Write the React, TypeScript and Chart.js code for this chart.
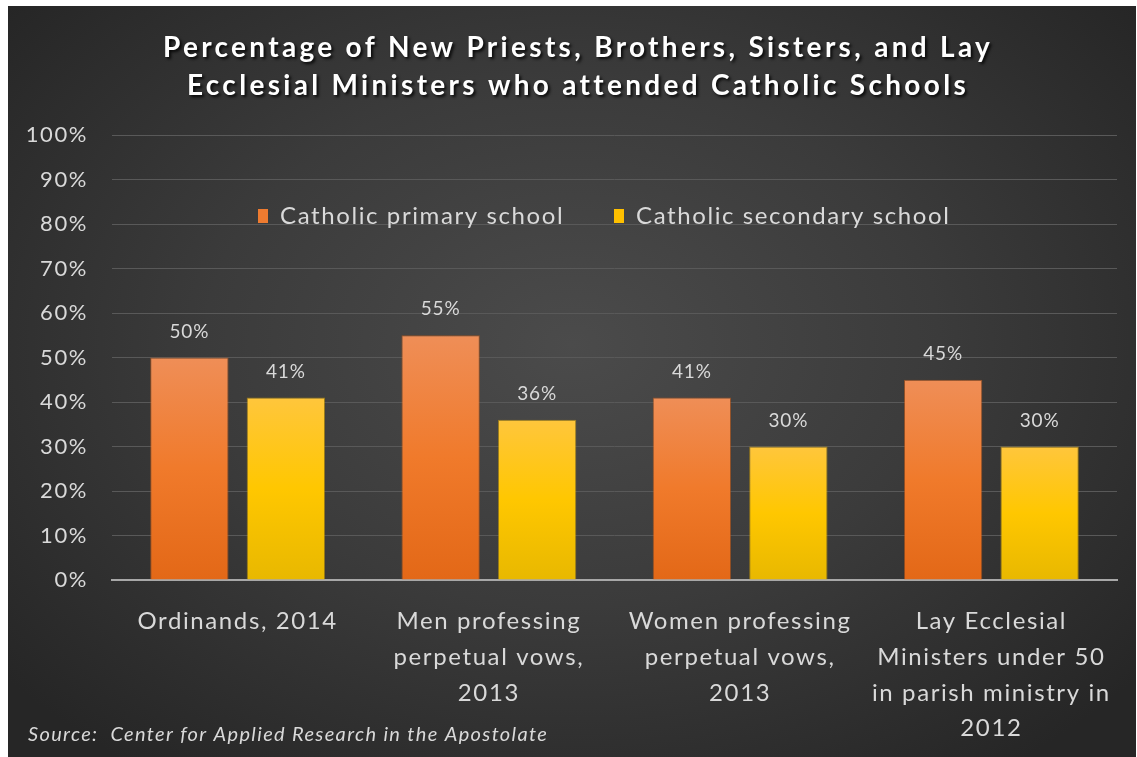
import { useEffect, useRef } from "react";
import { Chart, registerables } from "chart.js";

Chart.register(...registerables);

const titleLines = [
  "Percentage of New Priests, Brothers, Sisters, and Lay",
  "Ecclesial Ministers who attended Catholic Schools",
];
const categories = [
  ["Ordinands, 2014"],
  ["Men professing", "perpetual vows,", "2013"],
  ["Women professing", "perpetual vows,", "2013"],
  ["Lay Ecclesial", "Ministers under 50", "in parish ministry in", "2012"],
];
const seriesNames = ["Catholic primary school", "Catholic secondary school"];
const primaryValues = [50, 55, 41, 45];
const secondaryValues = [41, 36, 30, 30];
const yMin = 0;
const yMax = 100;
const yStep = 10;
const sourceText = "Source:  Center for Applied Research in the Apostolate";

const FONT = "Lato, 'Open Sans', sans-serif";
const TEXT = "#d9d9d9";

const orangeStops = ["#ef8e57", "#f07a2b", "#e36817"];
const yellowStops = ["#ffc63c", "#ffc700", "#e8b800"];

function barGradient(stops: string[]) {
  return (ctx: any) => {
    const chart = ctx.chart;
    if (!chart.chartArea || ctx.type !== "data") return stops[1];
    const y = chart.scales.y;
    const top = y.getPixelForValue(ctx.raw);
    const bottom = y.getPixelForValue(0);
    const g = chart.ctx.createLinearGradient(0, top, 0, bottom);
    g.addColorStop(0, stops[0]);
    g.addColorStop(0.5, stops[1]);
    g.addColorStop(1, stops[2]);
    return g;
  };
}

const spacingPlugin = {
  id: "spacing",
  beforeDraw(chart: any) {
    (chart.ctx as any).letterSpacing = "1.6px";
  },
  beforeDatasetsDraw(chart: any) {
    (chart.ctx as any).letterSpacing = "0px";
  },
};

const decorPlugin = {
  id: "decor",
  afterDraw(chart: any) {
    const ctx = chart.ctx as CanvasRenderingContext2D;
    // Title
    ctx.save();
    ctx.font = `bold 28px ${FONT}`;
    (ctx as any).letterSpacing = "3.3px";
    ctx.textAlign = "center";
    ctx.textBaseline = "middle";
    ctx.fillStyle = "#ffffff";
    ctx.shadowColor = "rgba(0,0,0,0.85)";
    ctx.shadowBlur = 3;
    ctx.shadowOffsetX = 2;
    ctx.shadowOffsetY = 2;
    titleLines.forEach((line, i) => {
      ctx.fillText(line, 570, 42 + i * 38);
    });
    ctx.restore();

    // Legend
    ctx.save();
    ctx.font = `24px ${FONT}`;
    (ctx as any).letterSpacing = "1.6px";
    ctx.textBaseline = "middle";
    ctx.textAlign = "left";
    const legendY = 210;
    const legendColors = ["#ee7b30", "#ffc000"];
    const starts = [250, 606];
    seriesNames.forEach((name, i) => {
      ctx.fillStyle = legendColors[i];
      ctx.fillRect(starts[i], legendY - 7, 10, 14);
      ctx.fillStyle = TEXT;
      ctx.fillText(name, starts[i] + 22, legendY);
    });
    ctx.restore();

    // Data labels
    ctx.save();
    ctx.font = `19px ${FONT}`;
    (ctx as any).letterSpacing = "0.8px";
    ctx.fillStyle = TEXT;
    ctx.textAlign = "center";
    ctx.textBaseline = "middle";
    chart.data.datasets.forEach((ds: any, di: number) => {
      const meta = chart.getDatasetMeta(di);
      meta.data.forEach((bar: any, i: number) => {
        ctx.fillText(ds.data[i] + "%", bar.x, bar.y - 26);
      });
    });
    ctx.restore();

    // Source
    ctx.save();
    ctx.font = `italic 20px ${FONT}`;
    (ctx as any).letterSpacing = "1.35px";
    ctx.fillStyle = TEXT;
    ctx.textAlign = "left";
    ctx.textBaseline = "middle";
    ctx.fillText(sourceText, 20, 729);
    ctx.restore();
  },
};

export default function App() {
  const ref = useRef<HTMLCanvasElement>(null);
  useEffect(() => {
    if (!ref.current) return;
    const chart = new Chart(ref.current, {
      type: "bar",
      data: {
        labels: categories,
        datasets: [
          {
            label: seriesNames[0],
            data: primaryValues,
            backgroundColor: barGradient(orangeStops),
            borderColor: "rgba(200,90,20,0.6)",
            borderWidth: 1,
          },
          {
            label: seriesNames[1],
            data: secondaryValues,
            backgroundColor: barGradient(yellowStops),
            borderColor: "rgba(210,160,0,0.6)",
            borderWidth: 1,
          },
        ],
      },
      options: {
        animation: false,
        responsive: false,
        maintainAspectRatio: false,
        layout: { padding: { top: 129, right: 19, left: 0, bottom: 0 } },
        categoryPercentage: 0.768,
        barPercentage: 0.8125,
        plugins: {
          legend: { display: false },
          title: { display: false },
          tooltip: { enabled: false },
        },
        scales: {
          x: {
            grid: { display: false, drawTicks: false },
            border: { display: true, color: "#a8a8a8", width: 2 },
            ticks: {
              color: TEXT,
              font: { family: FONT, size: 24, lineHeight: 1.48 },
              padding: 24,
              maxRotation: 0,
              autoSkip: false,
            },
            afterFit(scale: any) {
              scale.height = 177;
            },
          },
          y: {
            min: yMin,
            max: yMax,
            grid: { color: "#595959", lineWidth: 1, drawTicks: false },
            border: { display: false },
            ticks: {
              stepSize: yStep,
              color: TEXT,
              font: { family: FONT, size: 22 },
              padding: 24,
              callback: (v: any) => v + "%",
            },
            afterFit(scale: any) {
              scale.width = 104;
            },
          },
        },
      },
      plugins: [spacingPlugin, decorPlugin],
    });
    return () => chart.destroy();
  }, []);

  return (
    <div
      style={{
        position: "absolute",
        left: 8,
        top: 6,
        width: 1128,
        height: 751,
        background:
          "radial-gradient(ellipse 65% 70% at 50% 45%, #4b4b4b 0%, #3b3b3b 50%, #262626 100%)",
      }}
    >
      <canvas ref={ref} width={1128} height={751} style={{ display: "block" }} />
    </div>
  );
}
